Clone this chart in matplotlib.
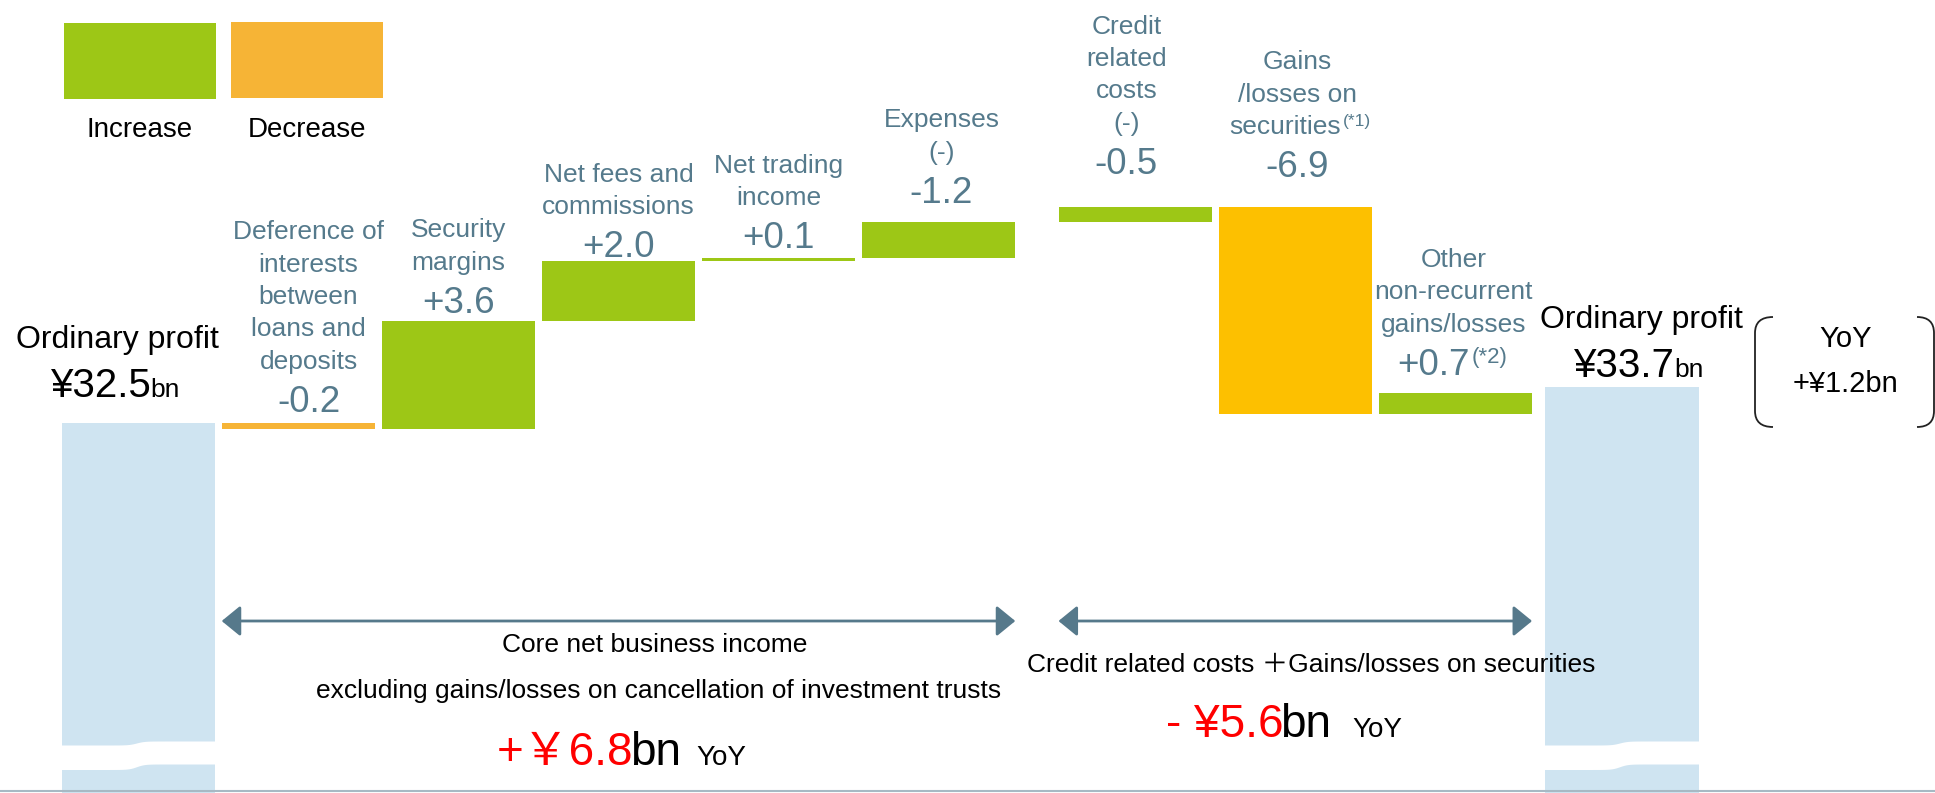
import numpy as np
import matplotlib
matplotlib.use("Agg")
import matplotlib.pyplot as plt
from matplotlib.patches import Rectangle, FancyArrowPatch, Polygon, PathPatch
from matplotlib.path import Path

plt.rcParams['font.family'] = ['Liberation Sans', 'Noto Sans CJK JP', 'DejaVu Sans']

# ---- data (¥bn) ----
start_profit = 32.5
end_profit = 33.7
item_names = [
    "Deference of\ninterests\nbetween\nloans and\ndeposits",
    "Security\nmargins",
    "Net fees and\ncommissions",
    "Net trading\nincome",
    "Expenses\n(-)",
    "Credit\nrelated\ncosts\n(-)",
    "Gains\n/losses on\nsecurities",
    "Other\nnon-recurrent\ngains/losses",
]
item_values = [-0.2, 3.6, 2.0, 0.1, -1.2, -0.5, -6.9, 0.7]
item_is_cost = [False, False, False, False, True, True, False, False]
core_yoy = 6.8
credit_sec_yoy = -5.6

# ---- layout / style ----
W, H, DPI = 1935, 793, 100
PT = 72 / DPI  # points per pixel
x_pos = [1, 2, 3, 4, 5, 6.23, 7.23, 8.23]
total_pos = [0, 9.27]
bar_w = 0.96
green = '#9dc716'
light_orange = '#f6b436'
orange = '#fdc000'
blue = '#cfe4f1'
label_col = '#557a8c'
arrow_col = '#56798b'
item_colors = [light_orange, green, green, green, green, green, orange, green]
value_gap = [11, 8, 4, 10, 19, 33, 30, 18]      # px between bar top and value baseline
value_dx = [10, 0, 0, 0, 3, -9, 2, -2]           # px horizontal nudge

fig = plt.figure(figsize=(W / DPI, H / DPI), dpi=DPI)
ax = fig.add_axes([0, 0, 1, 1])
ax.set_xlim(-138.5 / 160, (W - 138.5) / 160)
ax.set_ylim(32.5 - (H - 423) / 30, 32.5 + 423 / 30)
ax.axis('off')

# waterfall
effects = [-v if c else v for v, c in zip(item_values, item_is_cost)]
bottoms = []
level = start_profit
for e in effects:
    bottoms.append(level if e >= 0 else level + e)
    level += e
heights = [abs(e) for e in effects]
tops = [b + h for b, h in zip(bottoms, heights)]

ax.bar(x_pos, heights, bottom=bottoms, width=bar_w, color=item_colors, linewidth=0)
ax.bar(total_pos, [start_profit, end_profit], width=bar_w, color=blue, linewidth=0)

# wavy break on the total bars
t = np.linspace(0, 1, 80)
step = 0.5 * (1 + np.tanh((t - 0.49) / 0.05))
top_px = 745.5 - 4 * step
bot_px = 770 - 5.5 * step
for p in total_pos:
    x0, x1 = p - bar_w / 2 - 0.01, p + bar_w / 2 + 0.01
    xs = x0 + t * (x1 - x0)
    verts = np.vstack([np.column_stack([xs, 1 - top_px / H]),
                       np.column_stack([xs[::-1], 1 - bot_px[::-1] / H])])
    ax.add_patch(Polygon(verts, closed=True, facecolor='white', edgecolor='none',
                         transform=ax.get_xaxis_transform(), zorder=3))

# value + category labels
for i, (x, top) in enumerate(zip(x_pos, tops)):
    gap, dx = value_gap[i], value_dx[i]
    val = f"{item_values[i]:+.1f}"
    if i == 7:
        ax.annotate(val, (x, top), xytext=((dx + 16) * PT, gap * PT), textcoords='offset points',
                    ha='right', va='baseline', fontsize=26.5, color=label_col)
        ax.annotate("(*2)", (x, top), xytext=((dx + 18) * PT, (gap + 12) * PT),
                    textcoords='offset points', ha='left', va='baseline', fontsize=16, color=label_col)
    else:
        ax.annotate(val, (x, top), xytext=(dx * PT, gap * PT), textcoords='offset points',
                    ha='center', va='baseline', fontsize=26.5, color=label_col)
    lines = item_names[i].split("\n")[::-1]
    for j, line in enumerate(lines):
        oy = (gap + 43 + j * 32.5) * PT
        if i == 6 and j == 0:
            ax.annotate(line, (x, top), xytext=(46 * PT, oy), textcoords='offset points',
                        ha='right', va='baseline', fontsize=19, color=label_col)
            ax.annotate("(*1)", (x, top), xytext=(48 * PT, oy + 8 * PT), textcoords='offset points',
                        ha='left', va='baseline', fontsize=12.5, color=label_col)
        else:
            ax.annotate(line, (x, top), xytext=(dx * PT, oy), textcoords='offset points',
                        ha='center', va='baseline', fontsize=19, color=label_col)

# range arrows
arrow_y = 1 - 621 / H
for a, b in [(x_pos[0] - bar_w / 2, x_pos[4] + bar_w / 2), (x_pos[5] - bar_w / 2, x_pos[7] + bar_w / 2)]:
    ax.add_patch(FancyArrowPatch((a, arrow_y), (b, arrow_y), transform=ax.get_xaxis_transform(),
                                 arrowstyle='<|-|>,head_length=11.5,head_width=9.4', mutation_scale=1,
                                 color=arrow_col, lw=2, shrinkA=0, shrinkB=0))

# pixel overlay for annotations
px = fig.add_axes([0, 0, 1, 1])
px.set_xlim(0, W)
px.set_ylim(H, 0)
px.axis('off')

# legend
px.add_patch(Rectangle((64, 23), 152, 76, color=green, lw=0))
px.add_patch(Rectangle((231, 22), 152, 76, color=light_orange, lw=0))
px.text(140, 137, "Increase", ha='center', va='baseline', fontsize=20, color='black')
px.text(307, 137, "Decrease", ha='center', va='baseline', fontsize=20, color='black')

# totals
px.text(117, 348, "Ordinary profit", ha='center', va='baseline', fontsize=23)
px.text(152, 397, f"¥{start_profit}", ha='right', va='baseline', fontsize=29)
px.text(150, 397, "bn", ha='left', va='baseline', fontsize=19)
px.text(1641, 328, "Ordinary profit", ha='center', va='baseline', fontsize=23)
px.text(1675, 377, f"¥{end_profit}", ha='right', va='baseline', fontsize=29)
px.text(1674, 377, "bn", ha='left', va='baseline', fontsize=19)

# YoY bracket
px.text(1846, 347, "YoY", ha='center', va='baseline', fontsize=21)
px.text(1846, 392, f"+¥{end_profit - start_profit:.1f}bn", ha='center', va='baseline', fontsize=21)
codes = [Path.MOVETO, Path.CURVE3, Path.CURVE3, Path.LINETO, Path.CURVE3, Path.CURVE3]
for xe, xv in [(1773, 1755), (1917, 1934)]:
    verts = [(xe, 317), (xv, 317), (xv, 333), (xv, 411), (xv, 427), (xe, 427)]
    px.add_patch(PathPatch(Path(verts, codes), facecolor='none', edgecolor='#222222', lw=1.3))

# bottom summaries
px.text(655, 652, "Core net business income", ha='center', va='baseline', fontsize=19)
px.text(659, 698, "excluding gains/losses on cancellation of investment trusts",
        ha='center', va='baseline', fontsize=19)
px.text(633, 765, f"+￥{core_yoy:.1f}", ha='right', va='baseline', fontsize=33, color='#ff0000')
px.text(630, 765, "bn", ha='left', va='baseline', fontsize=33)
px.text(696, 765, "YoY", ha='left', va='baseline', fontsize=20)

px.text(1311, 672, "Credit related costs ＋Gains/losses on securities",
        ha='center', va='baseline', fontsize=19)
px.text(1283, 737, f"- ¥{abs(credit_sec_yoy):.1f}", ha='right', va='baseline', fontsize=33, color='#ff0000')
px.text(1280, 737, "bn", ha='left', va='baseline', fontsize=33)
px.text(1352, 737, "YoY", ha='left', va='baseline', fontsize=20)

px.axhline(791, color='#a7b9c4', lw=1.5)

fig.savefig("out.png", dpi=DPI, facecolor='white')
